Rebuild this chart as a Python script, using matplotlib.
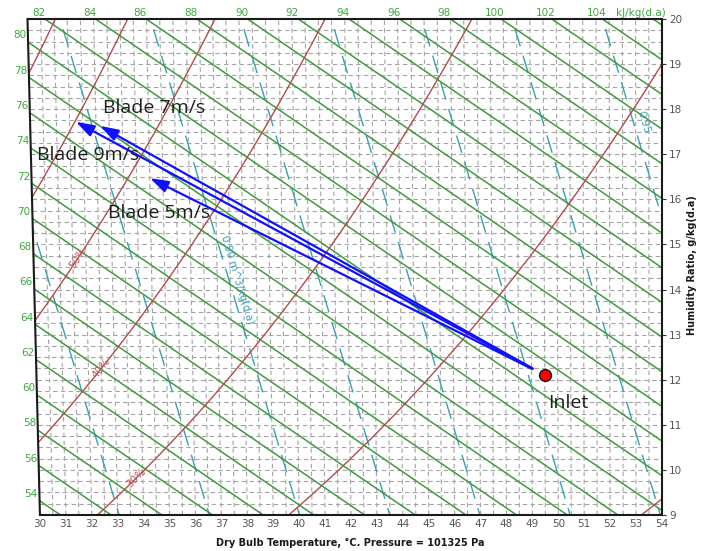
import numpy as np
import matplotlib
matplotlib.use("Agg")
import matplotlib.pyplot as plt
from matplotlib.patches import Polygon

P_ATM = 101325.0  # Pa

# chart window
t_min, t_max = 30, 54          # dry bulb, degC
w_min, w_max = 9, 20           # humidity ratio, g/kg(d.a)

# chart line families
rh_levels = [0.1, 0.2, 0.3, 0.4, 0.5, 0.6, 0.7]
rh_label_w = {0.5: 14.70, 0.4: 12.26, 0.3: 9.82}
h_levels = list(range(48, 112, 2))
h_left_labels = list(range(54, 82, 2))
h_top_labels = list(range(82, 106, 2))
v_levels = [0.87, 0.88, 0.89, 0.90, 0.91, 0.92, 0.93, 0.94, 0.95]
db_ticks = list(range(30, 55))
w_ticks = list(range(9, 21))

# measured states
inlet_t, inlet_w = 49.5, 12.1
blade_names = ["Blade 5m/s", "Blade 7m/s", "Blade 9m/s"]
outlet_t = [34.51, 32.65, 31.74]
outlet_w = [16.47, 17.63, 17.72]

GREEN = "#3e9c3e"
GREEN_TXT = "#3fa83f"
RED = "#b24c4c"
TEAL = "#37a2b2"
GRID = "#a4a4a4"
GRAY_TXT = "#555555"


def chart_x(t, w):
    """Oblique abscissa: isotherms tilt so that the t_max isotherm is vertical."""
    return t + 1.86 * (t - t_max) * (np.asarray(w) / 1000.0) / 1.006


def p_ws(t):
    tk = np.asarray(t) + 273.15
    return np.exp(-5.8002206e3 / tk + 1.3914993 - 4.8640239e-2 * tk
                  + 4.1764768e-5 * tk ** 2 - 1.4452093e-8 * tk ** 3
                  + 6.5459673 * np.log(tk))


def h_line_x(h, w):
    return (h - 2.60144 * np.asarray(w)) / 1.006


fig = plt.figure(figsize=(7.05, 5.51), dpi=100)
ax = fig.add_axes([27.5 / 705, 36 / 551, 634.5 / 705, 496 / 551])
ax.set_xlim(chart_x(t_min, w_max), t_max)
ax.set_ylim(w_min, w_max)
for s in ax.spines.values():
    s.set_visible(False)

frame_pts = [(chart_x(t_min, w_min), w_min), (t_max, w_min),
             (t_max, w_max), (chart_x(t_min, w_max), w_max)]
clip = Polygon(frame_pts, closed=True, transform=ax.transData)


def clipped(lines):
    for ln in lines:
        ln.set_clip_path(clip)
    return lines


# grid: humidity ratio every 0.25 g/kg, isotherms every 0.5 degC
for w in np.arange(9.25, 20.0, 0.25):
    clipped(ax.plot([chart_x(t_min, w), t_max], [w, w], color=GRID, lw=0.8,
                    dashes=(4.0, 3.0), zorder=1))
for t in np.arange(30.5, 54.0, 0.5):
    clipped(ax.plot([chart_x(t, w_min), chart_x(t, w_max)], [w_min, w_max],
                    color=GRID, lw=0.8, dashes=(4.0, 3.0), zorder=1))

# enthalpy lines
wl = np.array([8.0, 21.0])
for h in h_levels:
    clipped(ax.plot(h_line_x(h, wl), wl, color=GREEN, lw=1.1, zorder=3))

# specific volume lines
wv = np.linspace(8.0, 21.0, 60)


def v_line_t(v, w):
    return v * P_ATM / (287.042 * (1 + 1.607858 * np.asarray(w) / 1000.0)) - 273.15


for v in v_levels:
    clipped(ax.plot(chart_x(v_line_t(v, wv), wv), wv, color=TEAL, lw=1.0,
                    dashes=(13, 7), zorder=2))

# relative humidity curves
tt = np.linspace(24, 62, 800)
for rh in rh_levels:
    pw = rh * p_ws(tt)
    ww = 621.945 * pw / (P_ATM - pw)
    m = ww < 25
    clipped(ax.plot(chart_x(tt[m], ww[m]), ww[m], color=RED, lw=1.0, zorder=3))
    if rh in rh_label_w:
        wl0 = rh_label_w[rh]
        t0 = np.interp(wl0, ww[m], tt[m])
        p1 = ax.transData.transform((chart_x(t0 - 0.3, np.interp(t0 - 0.3, tt, ww)),
                                     np.interp(t0 - 0.3, tt, ww)))
        p2 = ax.transData.transform((chart_x(t0 + 0.3, np.interp(t0 + 0.3, tt, ww)),
                                     np.interp(t0 + 0.3, tt, ww)))
        ang = np.degrees(np.arctan2(p2[1] - p1[1], p2[0] - p1[0]))
        ax.text(chart_x(t0, wl0), wl0, f"{int(round(rh * 100))}%", color="#c05555",
                fontsize=7.5, rotation=ang, rotation_mode="anchor",
                ha="center", va="center", zorder=4)


def v_label(v, w, text, dx):
    t0 = v_line_t(v, w)
    x0 = chart_x(t0, w)
    pa = ax.transData.transform((chart_x(v_line_t(v, w + 0.5), w + 0.5), w + 0.5))
    pb = ax.transData.transform((chart_x(v_line_t(v, w - 0.5), w - 0.5), w - 0.5))
    ang = np.degrees(np.arctan2(pb[1] - pa[1], pb[0] - pa[0]))
    ax.text(x0 + dx, w, text, color=TEAL, fontsize=7.5, rotation=ang,
            rotation_mode="anchor", ha="center", va="center", zorder=4)


v_label(0.90, 14.21, "0.90 m^3/kg(d.a)", 0.33)
v_label(0.95, 17.72, "0.95", 0.42)

# frame
ax.add_patch(Polygon(frame_pts, closed=True, fill=False, edgecolor="#1a1a1a",
                     lw=1.5, zorder=6, clip_on=False))

# axes ticks
ax.set_xticks([chart_x(t, w_min) for t in db_ticks])
ax.set_xticklabels([str(t) for t in db_ticks])
ax.tick_params(axis="x", length=0, pad=3, labelsize=7.5, labelcolor=GRAY_TXT)
ax.yaxis.tick_right()
ax.set_yticks(w_ticks)
ax.tick_params(axis="y", length=3, width=0.8, color="#333333", pad=2,
               labelsize=7.5, labelcolor=GRAY_TXT)

# enthalpy scale labels
for h in h_left_labels:
    w_int = (h - 1.006 * t_min) / (2.501 + 0.00186 * t_min)
    w_lab = w_int + 0.15
    ax.text(h_line_x(h, w_lab) + 0.06, w_lab, str(h), color=GREEN_TXT, fontsize=7.5,
            ha="center", va="center", clip_on=False)
for h in h_top_labels:
    ax.text(h_line_x(h, w_max) - 0.24, w_max + 0.14, str(h), color=GREEN_TXT,
            fontsize=7.5, ha="center", va="center", clip_on=False)
ax.text(53.18, w_max + 0.14, "kJ/kg(d.a)", color=GREEN_TXT, fontsize=7.5,
        ha="center", va="center", clip_on=False)

fig.text(350 / 705, 1 - 543 / 551, "Dry Bulb Temperature, \u00b0C. Pressure = 101325 Pa",
         fontsize=7, fontweight="bold", color="#1a1a1a", ha="center", va="center")
fig.text(692 / 705, 1 - 265 / 551, "Humidity Ratio, g/kg(d.a)", rotation=90,
         fontsize=7, fontweight="bold", color="#1a1a1a", ha="center", va="center")

# process arrows from the inlet state
x_in = chart_x(inlet_t, inlet_w)
for t_out, w_out in zip(outlet_t, outlet_w):
    ax.annotate("", xy=(chart_x(t_out, w_out), w_out), xytext=(x_in, inlet_w),
                arrowprops=dict(arrowstyle="-|>,head_length=11,head_width=3.6",
                                mutation_scale=1, color="#1010ff", lw=1.6,
                                shrinkA=10, shrinkB=0),
                zorder=7)
ax.plot([x_in], [inlet_w], "o", ms=8.5, mfc="#ff0000", mec="#111111", mew=1.0,
        zorder=8)

label_font = dict(family=["Open Sans", "DejaVu Sans"], fontsize=14, color="#1e1e1e",
                  ha="left", va="center", zorder=9)
ax.text(32.07, 18.03, blade_names[1], **label_font)
ax.text(29.49, 16.98, blade_names[2], clip_on=False, **label_font)
ax.text(32.27, 15.70, blade_names[0], **label_font)
ax.text(49.53, 11.48, "Inlet", **label_font)

fig.savefig("out.png", dpi=100)
